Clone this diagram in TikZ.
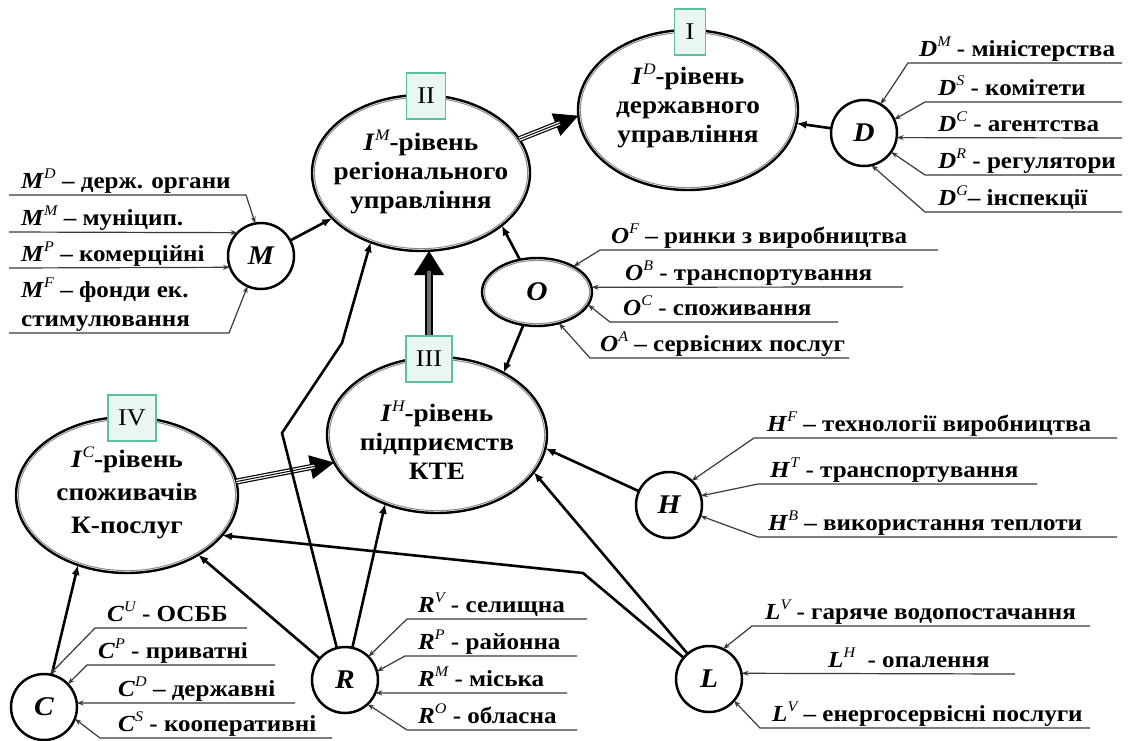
\documentclass[tikz,border=0pt]{standalone}
\usepackage{fontspec}
\setmainfont{Liberation Serif}[FakeStretch=1.09]
\usetikzlibrary{shapes.geometric,arrows.meta}
\definecolor{boxfill}{HTML}{EAF7F1}
\definecolor{boxdraw}{HTML}{5CBF9E}
\definecolor{thinline}{HTML}{3A3A3A}
\definecolor{ringgray}{HTML}{8A8A8A}
\makeatletter
\newcommand\sym[2]{\textit{#1}\raisebox{0.40em}{\fontsize{\dimexpr0.64\dimexpr\f@size pt\relax\relax}{0pt}\selectfont\mdseries\itshape #2}}
\makeatother
\begin{document}
\begin{tikzpicture}[x=1pt,y=-1pt,
  lvl/.style={ellipse, draw, line width=2.4pt, inner sep=0pt, outer sep=0pt},
  lvltext/.style={align=center, inner sep=0pt, font=\fontsize{25}{29}\selectfont\bfseries},
  sub/.style={circle, draw, line width=2.5pt, minimum size=66pt, inner sep=0pt, outer sep=0pt, font=\fontsize{27}{27}\selectfont\bfseries\itshape},
  numbox/.style={draw=boxdraw, fill=boxfill, line width=1.4pt, minimum height=46pt, inner sep=0pt, font=\fontsize{24}{24}\selectfont},
  lab/.style={anchor=base west, inner sep=0pt, font=\fontsize{23}{26}\selectfont\bfseries},
  feed/.style={draw=thinline, line width=1.2pt, -{Stealth[length=7pt,width=5pt]}},
  conn/.style={line width=2.6pt, -{Latex[length=10pt,width=8pt]}},
  bighead/.style={line width=0.8pt, -{Triangle[length=24pt,width=24pt]}},
  ring/.style={draw=ringgray, line width=1pt}
]
\fill[white] (0,0) rectangle (1129,740);
\useasboundingbox (0,0) rectangle (1129,740);

% level ellipses
\node[lvl, minimum width=220pt, minimum height=160pt] (lD) at (688,110) {};
\node[lvl, minimum width=218pt, minimum height=156pt] (lM) at (421,173) {};
\node[lvl, minimum width=220pt, minimum height=156pt] (lH) at (437,435) {};
\node[lvl, minimum width=222pt, minimum height=156pt] (lC) at (127,495) {};
\node[lvl, minimum width=110pt, minimum height=68pt, font=\fontsize{27}{27}\selectfont\bfseries\itshape] (O) at (537,292) {O};
\draw[ring] (lD.center) ellipse [x radius=107.6, y radius=77.6];
\draw[ring] (lM.center) ellipse [x radius=106.6, y radius=75.6];
\draw[ring] (lH.center) ellipse [x radius=107.6, y radius=75.6];
\draw[ring] (lC.center) ellipse [x radius=108.6, y radius=75.6];
\draw[ring] (O.center) ellipse [x radius=52.6, y radius=31.6];

\node[lvltext] (tD) at (688,106) {\sym{I}{D}-рівень\\державного\\управління};
\node[lvltext] (tM) at (421,172) {\sym{I}{M}-рівень\\регіонального\\управління};
\node[lvltext] (tH) at (437,440) {\sym{I}{H}-рівень\\підприємств\\КТЕ};
\node[lvltext, font=\fontsize{25}{33}\selectfont\bfseries] (tC) at (127,493) {\sym{I}{C}-рівень\\споживачів\\К-послуг};

% number boxes
\node[numbox, minimum width=31pt] (b1) at (690,32) {I};
\node[numbox, minimum width=39pt] (b2) at (426,96) {II};
\node[numbox, minimum width=46pt] (b3) at (429,359) {III};
\node[numbox, minimum width=48pt] (b4) at (132,418) {IV};

% factor circles
\node[sub] (D) at (864,133) {D};
\node[sub] (M) at (261,256) {M};
\node[sub] (H) at (669,505) {H};
\node[sub] (L) at (709,679) {L};
\node[sub] (R) at (345,680) {R};
\node[sub] (C) at (44,707) {C};

% big arrows
\draw[bighead] (lM.19) -- (lD.183);
\draw[line width=6pt, shorten >=20pt] (lM.19) -- (lD.183);
\draw[white, line width=3.6pt, shorten >=20pt] (lM.19) -- (lD.183);
\draw[line width=1pt, shorten >=20pt] (lM.19) -- (lD.183);

\draw[line width=0.8pt, -{Triangle[length=24pt,width=30pt]}] (b3.north) -- (b3.north |- lM.south);
\draw[line width=8pt, shorten >=20pt] (b3.north) -- (b3.north |- lM.south);
\draw[ringgray!80!black, line width=4.4pt, shorten >=20pt] (b3.north) -- (b3.north |- lM.south);

\draw[bighead] (lC.7) -- (lH.195);
\draw[line width=6pt, shorten >=20pt] (lC.7) -- (lH.195);
\draw[white, line width=3.6pt, shorten >=20pt] (lC.7) -- (lH.195);
\draw[line width=1pt, shorten >=20pt] (lC.7) -- (lH.195);

% connectors
\coordinate (kL) at (583,573);
\coordinate (kR1) at (282,433);
\coordinate (kR2) at (342,343);
\draw[conn] (M) -- (lM.207);
\draw[conn] (D) -- (lD.-7);
\draw[conn] (O) -- (lM.-33);
\draw[conn] (O) -- (lH.43);
\draw[conn] (H) -- (lH.-7);
\draw[conn] (L) -- (lH.-21);
\draw[conn] (L) -- (kL) -- (lC.-23);
\draw[conn] (R) -- (lC.-40);
\draw[conn] (R) -- (lH.233);
\draw[conn] (R) -- (kR1) -- (kR2) -- (lM.234);
\draw[conn] (C) -- (lC.235);

% D feeds
\coordinate (dmE) at (1122,63); \coordinate (dmS) at (908,63);
\coordinate (dsE) at (1122,102); \coordinate (dsS) at (925,102);
\coordinate (dcE) at (1122,138);
\coordinate (drE) at (1122,175); \coordinate (drS) at (925,175);
\coordinate (dgE) at (1122,212); \coordinate (dgS) at (925,212);
\draw[feed] (dmE) -- (dmS) -- (D.60);
\draw[feed] (dsE) -- (dsS) -- (D.24);
\draw[feed] (dcE) -- (D.-8);
\draw[feed] (drE) -- (drS) -- (D.-35);
\draw[feed] (dgE) -- (dgS) -- (D.-77);
\node[lab] (tdm) at (919,56) {\sym{D}{M} - міністерства};
\node[lab] (tds) at (938,95) {\sym{D}{S} - комітети};
\node[lab] (tdc) at (938,131) {\sym{D}{C} - агентства};
\node[lab] (tdr) at (938,168) {\sym{D}{R} - регулятори};
\node[lab] (tdg) at (938,205) {\sym{D}{G}– інспекції};

% M feeds
\coordinate (mdS) at (9,195); \coordinate (mdE) at (246,195);
\coordinate (mmS) at (9,232);
\coordinate (mpS) at (9,268);
\coordinate (mfS) at (9,333); \coordinate (mfE) at (229,333);
\draw[feed] (mdS) -- (mdE) -- (M.100);
\draw[feed] (mmS) -- (M.135);
\draw[feed] (mpS) -- (M.200);
\draw[feed] (mfS) -- (mfE) -- (M.246);
\node[lab] (tmd) at (21,188) {\sym{M}{D} – держ. органи};
\node[lab] (tmm) at (21,225) {\sym{M}{M} – муніцип.};
\node[lab] (tmp) at (21,261) {\sym{M}{P} – комерційні};
\node[lab] (tmf) at (21,297) {\sym{M}{F} – фонди ек.};
\node[lab] (tmf2) at (21,326) {стимулювання};

% O feeds
\coordinate (ofE) at (938,250); \coordinate (ofS) at (600,250);
\coordinate (obE) at (903,287);
\coordinate (ocE) at (838,322); \coordinate (ocS) at (610,322);
\coordinate (oaE) at (849,358); \coordinate (oaS) at (590,358);
\draw[feed] (ofE) -- (ofS) -- (O.35);
\draw[feed] (obE) -- (O.5);
\draw[feed] (ocE) -- (ocS) -- (O.-14);
\draw[feed] (oaE) -- (oaS) -- (O.-55);
\node[lab] (tof) at (611,243) {\sym{O}{F} – ринки з виробництва};
\node[lab] (tob) at (625,280) {\sym{O}{B} - транспортування};
\node[lab] (toc) at (623,315) {\sym{O}{C} - споживання};
\node[lab] (toa) at (600,351) {\sym{O}{A} – сервісних послуг};

% H feeds
\coordinate (hfE) at (1117,438); \coordinate (hfS) at (754,438);
\coordinate (htE) at (1037,484); \coordinate (htS) at (758,484);
\coordinate (hbE) at (1117,537); \coordinate (hbS) at (758,537);
\draw[feed] (hfE) -- (hfS) -- (H.47);
\draw[feed] (htE) -- (htS) -- (H.16);
\draw[feed] (hbE) -- (hbS) -- (H.-19);
\node[lab] (thf) at (767,431) {\sym{H}{F} – технології виробництва};
\node[lab] (tht) at (770,477) {\sym{H}{T} - транспортування};
\node[lab] (thb) at (768,530) {\sym{H}{B} – використання теплоти};

% L feeds
\coordinate (lvE) at (1090,626); \coordinate (lvS) at (752,626);
\coordinate (lhE) at (1015,674);
\coordinate (lwE) at (1090,728); \coordinate (lwS) at (760,728);
\draw[feed] (lvE) -- (lvS) -- (L.65);
\draw[feed] (lhE) -- (L.10);
\draw[feed] (lwE) -- (lwS) -- (L.-41);
\node[lab] (tlv) at (765,619) {\sym{L}{V} - гаряче водопостачання};
\node[lab] (tlh) at (828,667) {\sym{L}{H}\ \ - опалення};
\node[lab] (tlw) at (772,721) {\sym{L}{V} – енергосервісні послуги};

% R feeds
\coordinate (rvE) at (587,619); \coordinate (rvS) at (407,619);
\coordinate (rpE) at (577,656); \coordinate (rpS) at (405,656);
\coordinate (rmE) at (567,693);
\coordinate (roE) at (577,730); \coordinate (roS) at (407,730);
\draw[feed] (rvE) -- (rvS) -- (R.45);
\draw[feed] (rpE) -- (rpS) -- (R.15);
\draw[feed] (rmE) -- (R.-23);
\draw[feed] (roE) -- (roS) -- (R.-47);
\node[lab] (trv) at (418,612) {\sym{R}{V} - селищна};
\node[lab] (trp) at (418,649) {\sym{R}{P} - районна};
\node[lab] (trm) at (418,686) {\sym{R}{M} - міська};
\node[lab] (tro) at (418,723) {\sym{R}{O} - обласна};

% C feeds
\coordinate (cuE) at (247,628); \coordinate (cuS) at (95,628);
\coordinate (cpE) at (275,665); \coordinate (cpS) at (87,665);
\coordinate (cdE) at (295,703);
\coordinate (csE) at (332,738); \coordinate (csS) at (100,738);
\draw[feed] (cuE) -- (cuS) -- (C.80);
\draw[feed] (cpE) -- (cpS) -- (C.44);
\draw[feed] (cdE) -- (C.7);
\draw[feed] (csE) -- (csS) -- (C.-21);
\node[lab] (tcu) at (107,621) {\sym{C}{U} - ОСББ};
\node[lab] (tcp) at (98,658) {\sym{C}{P} - приватні};
\node[lab] (tcd) at (118,696) {\sym{C}{D} – державні};
\node[lab] (tcs) at (118,731) {\sym{C}{S} - кооперативні};
\end{tikzpicture}
\end{document}
